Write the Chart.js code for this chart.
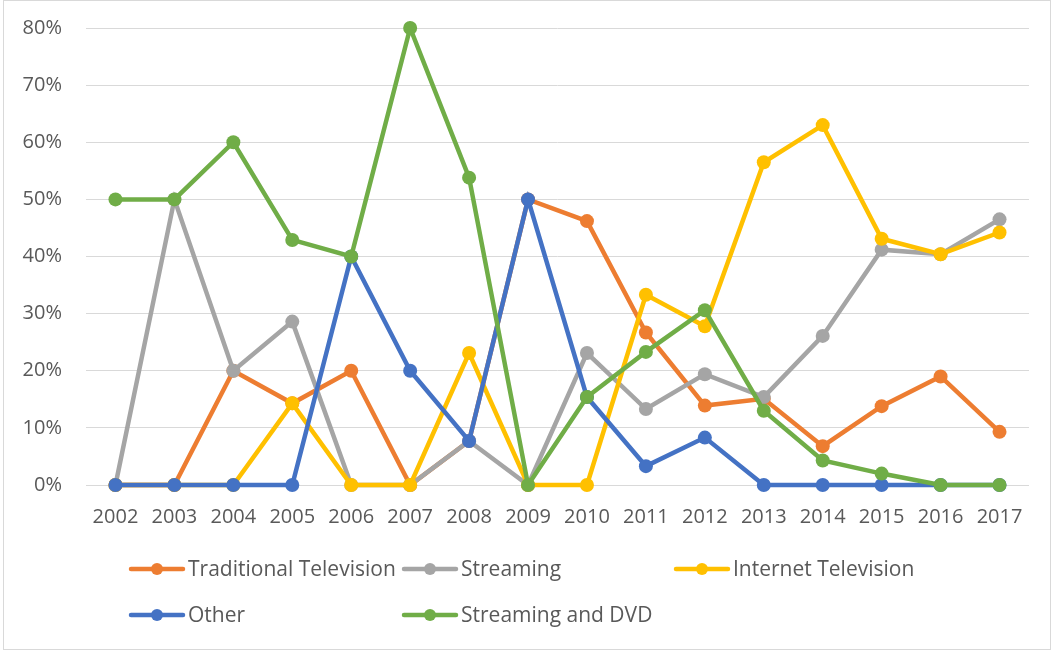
<!DOCTYPE html>
<html><head><meta charset="utf-8">
<script src="https://cdn.jsdelivr.net/npm/chart.js@4"></script>
<style>
html,body{margin:0;padding:0;background:#fff;}
#wrap{position:absolute;left:0;top:0;width:1057px;height:652px;}
#frame{position:absolute;left:3px;top:0px;width:1048px;height:650px;border:1px solid #d9d9d9;box-sizing:border-box;pointer-events:none;}
</style></head><body>
<div id="wrap"><canvas id="c" width="1057" height="652"></canvas><div id="frame"></div></div>
<script>
const years = ['2002','2003','2004','2005','2006','2007','2008','2009','2010','2011','2012','2013','2014','2015','2016','2017'];
const yTicks = [0,10,20,30,40,50,60,70,80];
const seriesNames = ['Traditional Television','Streaming','Internet Television','Other','Streaming and DVD'];
const traditionalTV = [0,0,20,14.3,20,0,7.7,50,46.2,26.7,13.9,15.1,6.8,13.8,19.0,9.3];
const streaming     = [0,50,20,28.6,0,0,7.7,0,23.1,13.3,19.4,15.4,26.1,41.2,40.4,46.5];
const internetTV    = [0,0,0,14.3,0,0,23.1,0,0,33.3,27.8,56.5,63.0,43.1,40.4,44.2];
const other         = [0,0,0,0,40,20,7.7,50,15.4,3.3,8.3,0,0,0,0,0];
const streamingDVD  = [50,50,60,42.9,40,80,53.8,0,15.4,23.3,30.6,13.0,4.3,2.0,0,0];
const colors = ['#ED7D31','#A5A5A5','#FFC000','#4472C4','#70AD47'];
const values = [traditionalTV, streaming, internetTV, other, streamingDVD];

const FONT = '"Open Sans", "Liberation Sans", sans-serif';
const TEXT = '#595959';

const legendPlugin = {
  id: 'gridLegend',
  afterDraw(chart) {
    const ctx = chart.ctx;
    const pos = [[129,569],[402,569],[674,569],[129,615],[402,615]];
    chart.data.datasets.forEach((ds, i) => {
      const [x, y] = pos[i];
      ctx.save();
      ctx.strokeStyle = ds.borderColor;
      ctx.lineWidth = 4.5;
      ctx.lineCap = 'round';
      ctx.beginPath(); ctx.moveTo(x + 2, y); ctx.lineTo(x + 54, y); ctx.stroke();
      ctx.fillStyle = ds.borderColor;
      ctx.beginPath(); ctx.arc(x + 28, y, 6, 0, Math.PI * 2); ctx.fill();
      ctx.fillStyle = TEXT;
      ctx.font = '21px ' + FONT;
      ctx.textBaseline = 'middle';
      ctx.textAlign = 'left';
      ctx.fillText(ds.label, x + 59, y + 1);
      ctx.restore();
    });
  }
};

const datasets = seriesNames.map((name, i) => ({
  label: name,
  data: values[i],
  borderColor: colors[i],
  backgroundColor: colors[i],
  pointBackgroundColor: colors[i],
  pointBorderColor: colors[i],
  pointBorderWidth: 0,
  pointRadius: 7,
  pointHoverRadius: 7,
  borderWidth: 4.5,
  tension: 0,
  fill: false,
  clip: false,
  order: seriesNames.length - i
}));

new Chart(document.getElementById('c'), {
  type: 'line',
  data: { labels: years, datasets },
  plugins: [legendPlugin],
  options: {
    responsive: false,
    animation: false,
    devicePixelRatio: 1,
    layout: { autoPadding: false, padding: { left: 0, right: 28, top: 28, bottom: 0 } },
    plugins: { legend: { display: false }, tooltip: { enabled: false } },
    scales: {
      x: {
        type: 'category',
        offset: true,
        grid: { display: false, drawTicks: false },
        border: { display: false },
        ticks: { color: TEXT, font: { family: FONT, size: 20 }, padding: 20, maxRotation: 0, autoSkip: false },
        afterFit: (s) => { s.height = 167; }
      },
      y: {
        min: 0, max: 80,
        afterBuildTicks: (s) => { s.ticks = yTicks.map(v => ({ value: v })); },
        grid: { color: '#D9D9D9', lineWidth: 1, drawTicks: false },
        border: { display: false },
        ticks: { color: TEXT, font: { family: FONT, size: 20 }, padding: 24, callback: (v) => v + '%' },
        afterFit: (s) => { s.width = 86; s.paddingTop = 0; s.paddingBottom = 0; }
      }
    }
  }
});
</script>
</body></html>
